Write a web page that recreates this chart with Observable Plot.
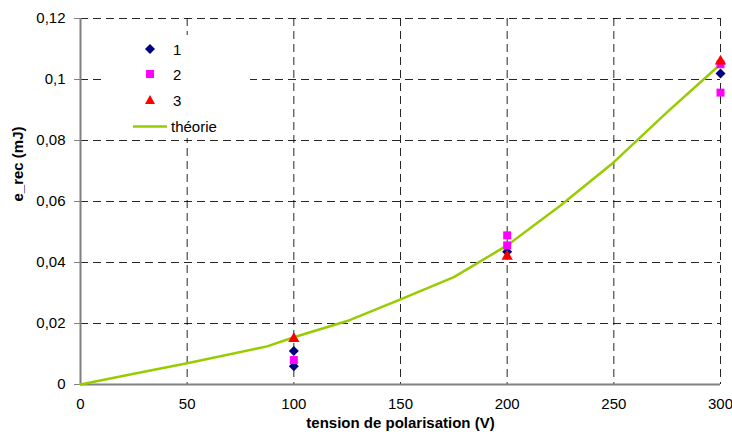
<!DOCTYPE html>
<html>
<head>
<meta charset="utf-8">
<script src="https://cdn.jsdelivr.net/npm/d3@7"></script>
<script src="https://cdn.jsdelivr.net/npm/@observablehq/plot@0.6"></script>
<style>
  body { margin: 0; background: #fff; font-family: "Liberation Sans", Arial, sans-serif; }
  #wrap { position: relative; width: 732px; height: 432px; }
  #wrap > svg { position: absolute; left: 0; top: 0; z-index: 0; }
  #legend { position: absolute; left: 102px; top: 35px; width: 148px; height: 103px; background-color: #ffffff; z-index: 5; }
  #legend .item { position: absolute; font-family: "Liberation Sans", Arial, sans-serif; font-size: 15px; color: #000; line-height: 15px; }
  #legend svg.sym { position: absolute; overflow: visible; display: block; }
</style>
</head>
<body>
<div id="wrap"></div>
<script>
// Data
const series1V = [100, 100, 200, 300];
const series1E = [0.011, 0.006, 0.0435, 0.102];
const series2V = [100, 200, 200, 300, 300];
const series2E = [0.008, 0.0489, 0.0456, 0.105, 0.0957];
const series3V = [100, 200, 300];
const series3E = [0.015, 0.042, 0.106];
const theoryV = [0, 25, 50, 87.5, 100, 125, 150, 175, 200, 225, 250, 275, 300];
const theoryE = [0, 0.0035, 0.007, 0.0125, 0.0155, 0.0208, 0.0279, 0.0352, 0.0456, 0.0587, 0.0729, 0.0893, 0.105];
const xTicks = [0, 50, 100, 150, 200, 250, 300];
const yTicks = [0, 0.02, 0.04, 0.06, 0.08, 0.1, 0.12];
const legendLabels = ["1", "2", "3", "théorie"];

const zip = (xs, ys) => xs.map((x, i) => ({x, y: ys[i]}));
const s1 = zip(series1V, series1E);
const s2 = zip(series2V, series2E);
const s3 = zip(series3V, series3E);
const th = zip(theoryV, theoryE);

const fmt = d => String(+d.toFixed(2)).replace(".", ",");

const chart = Plot.plot({
  width: 732,
  height: 432,
  marginLeft: 80,
  marginRight: 12,
  marginTop: 18,
  marginBottom: 48,
  style: {fontFamily: "'Liberation Sans', Arial, sans-serif", fontSize: "15px", background: "#fff", overflow: "visible"},
  x: {domain: [0, 300]},
  y: {domain: [0, 0.12]},
  marks: [
    Plot.gridY(yTicks.filter(d => d > 0), {stroke: "#000", strokeOpacity: 0.85, strokeDasharray: "8,5"}),
    Plot.gridX(xTicks.filter(d => d > 0), {stroke: "#000", strokeOpacity: 0.85, strokeDasharray: "8,5"}),
    Plot.ruleX([0], {stroke: "#808080", strokeWidth: 2}),
    Plot.ruleY([0], {stroke: "#808080", strokeWidth: 2}),
    Plot.axisY(yTicks, {tickSize: 6, tickPadding: 9, tickFormat: fmt, stroke: "#808080", fill: "#000", label: null, fontSize: 15}),
    Plot.axisX(xTicks, {tickSize: 0, tickPadding: 14, tickFormat: d => String(d), fill: "#000", label: null, fontSize: 15}),
    Plot.line(th, {x: "x", y: "y", stroke: "#99CC00", strokeWidth: 2.5}),
    Plot.dot(s1, {x: "x", y: "y", symbol: "diamond2", fill: "#000080", stroke: "none", r: 4.5}),
    Plot.dot(s2, {x: "x", y: "y", symbol: "square", fill: "#FF00FF", stroke: "none", r: 4.5}),
    Plot.dot(s3, {x: "x", y: "y", symbol: "triangle", fill: "#FF0000", stroke: "none", r: 4.2}),
    Plot.text(["tension de polarisation (V)"], {frameAnchor: "bottom", dy: 43, fontWeight: "bold", fontSize: 15, fill: "#000"}),
    Plot.text(["e_rec (mJ)"], {frameAnchor: "left", dx: -62, rotate: -90, fontWeight: "bold", fontSize: 15, fill: "#000"})
  ]
});

const wrap = document.getElementById("wrap");
wrap.appendChild(chart);

// Legend overlay (white box hiding grid, as in reference)
const lg = document.createElement("div");
lg.id = "legend";
const symbols = [
  `<svg class="sym" width="10" height="10" style="left:43px;top:9px"><path d="M5,0L10,5L5,10L0,5Z" fill="#000080"/></svg>`,
  `<svg class="sym" width="8" height="8" style="left:44px;top:35px"><rect width="8" height="8" fill="#FF00FF"/></svg>`,
  `<svg class="sym" width="10" height="9" style="left:43px;top:60px"><path d="M5,0L10,9L0,9Z" fill="#FF0000"/></svg>`,
  `<svg class="sym" width="34" height="3" style="left:31px;top:90px"><line x1="0" y1="1.5" x2="34" y2="1.5" stroke="#99CC00" stroke-width="2.5"/></svg>`
];
const rowsTop = [7, 32, 58, 84];
let html = "";
legendLabels.forEach((lab, i) => {
  html += symbols[i];
  html += `<div class="item" style="left:${i === 3 ? 69 : 71}px;top:${rowsTop[i]}px">${lab}</div>`;
});
lg.innerHTML = html;
wrap.appendChild(lg);
</script>
</body>
</html>
